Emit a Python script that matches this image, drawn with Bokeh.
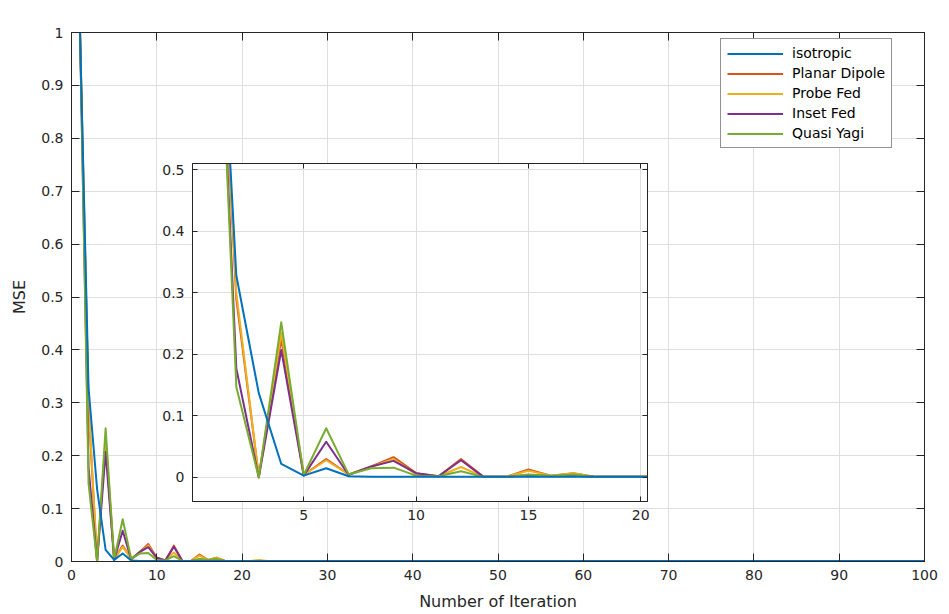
from bokeh.plotting import figure
from bokeh.models import (Range1d, LinearAxis, FixedTicker, Legend, LegendItem,
                          ColumnDataSource, NumeralTickFormatter)
from bokeh.layouts import column
from bokeh.embed import file_html
from bokeh.resources import INLINE

# ---------------- data ----------------
iterations = list(range(1, 101))

isotropic = [
    1.0, 0.328, 0.137, 0.022, 0.003, 0.015, 0.002, 0.001, 0.001, 0.001,
    0.001, 0.001, 0.001, 0.001, 0.001, 0.001, 0.001, 0.001, 0.001, 0.001,
    0.001, 0.001, 0.001, 0.001, 0.001, 0.001, 0.001, 0.001, 0.001, 0.001,
    0.001, 0.001, 0.001, 0.001, 0.001, 0.001, 0.001, 0.001, 0.001, 0.001,
    0.001, 0.001, 0.001, 0.001, 0.001, 0.001, 0.001, 0.001, 0.001, 0.001,
    0.001, 0.001, 0.001, 0.001, 0.001, 0.001, 0.001, 0.001, 0.001, 0.001,
    0.001, 0.001, 0.001, 0.001, 0.001, 0.001, 0.001, 0.001, 0.001, 0.001,
    0.001, 0.001, 0.001, 0.001, 0.001, 0.001, 0.001, 0.001, 0.001, 0.001,
    0.001, 0.001, 0.001, 0.001, 0.001, 0.001, 0.001, 0.001, 0.001, 0.001,
    0.001, 0.001, 0.001, 0.001, 0.001, 0.001, 0.001, 0.001, 0.001, 0.001,
]
planar_dipole = [
    1.0, 0.290, 0.002, 0.225, 0.004, 0.030, 0.005, 0.018, 0.033, 0.007,
    0.002, 0.030, 0.001, 0.001, 0.013, 0.003, 0.007, 0.001, 0.001, 0.001,
    0.001, 0.001, 0.001, 0.001, 0.001, 0.001, 0.001, 0.001, 0.001, 0.001,
    0.001, 0.001, 0.001, 0.001, 0.001, 0.001, 0.001, 0.001, 0.001, 0.001,
    0.001, 0.001, 0.001, 0.001, 0.001, 0.001, 0.001, 0.001, 0.001, 0.001,
    0.001, 0.001, 0.001, 0.001, 0.001, 0.001, 0.001, 0.001, 0.001, 0.001,
    0.001, 0.001, 0.001, 0.001, 0.001, 0.001, 0.001, 0.001, 0.001, 0.001,
    0.001, 0.001, 0.001, 0.001, 0.001, 0.001, 0.001, 0.001, 0.001, 0.001,
    0.001, 0.001, 0.001, 0.001, 0.001, 0.001, 0.001, 0.001, 0.001, 0.001,
    0.001, 0.001, 0.001, 0.001, 0.001, 0.001, 0.001, 0.001, 0.001, 0.001,
]
probe_fed = [
    1.0, 0.300, 0.002, 0.235, 0.004, 0.028, 0.005, 0.017, 0.030, 0.005,
    0.002, 0.017, 0.001, 0.001, 0.011, 0.003, 0.007, 0.001, 0.001, 0.001,
    0.001, 0.003, 0.001, 0.001, 0.001, 0.001, 0.001, 0.001, 0.001, 0.001,
    0.001, 0.001, 0.001, 0.001, 0.001, 0.001, 0.001, 0.001, 0.001, 0.001,
    0.001, 0.001, 0.001, 0.001, 0.001, 0.001, 0.001, 0.001, 0.001, 0.001,
    0.001, 0.001, 0.001, 0.001, 0.001, 0.001, 0.001, 0.001, 0.001, 0.001,
    0.001, 0.001, 0.001, 0.001, 0.001, 0.001, 0.001, 0.001, 0.001, 0.001,
    0.001, 0.001, 0.001, 0.001, 0.001, 0.001, 0.001, 0.001, 0.001, 0.001,
    0.001, 0.001, 0.001, 0.001, 0.001, 0.001, 0.001, 0.001, 0.001, 0.001,
    0.001, 0.001, 0.001, 0.001, 0.001, 0.001, 0.001, 0.001, 0.001, 0.001,
]
inset_fed = [
    1.0, 0.177, 0.000, 0.207, 0.003, 0.058, 0.004, 0.018, 0.027, 0.007,
    0.002, 0.028, 0.001, 0.001, 0.004, 0.002, 0.003, 0.001, 0.001, 0.001,
    0.001, 0.001, 0.001, 0.001, 0.001, 0.001, 0.001, 0.001, 0.001, 0.001,
    0.001, 0.001, 0.001, 0.001, 0.001, 0.001, 0.001, 0.001, 0.001, 0.001,
    0.001, 0.001, 0.001, 0.001, 0.001, 0.001, 0.001, 0.001, 0.001, 0.001,
    0.001, 0.001, 0.001, 0.001, 0.001, 0.001, 0.001, 0.001, 0.001, 0.001,
    0.001, 0.001, 0.001, 0.001, 0.001, 0.001, 0.001, 0.001, 0.001, 0.001,
    0.001, 0.001, 0.001, 0.001, 0.001, 0.001, 0.001, 0.001, 0.001, 0.001,
    0.001, 0.001, 0.001, 0.001, 0.001, 0.001, 0.001, 0.001, 0.001, 0.001,
    0.001, 0.001, 0.001, 0.001, 0.001, 0.001, 0.001, 0.001, 0.001, 0.001,
]
quasi_yagi = [
    1.0, 0.147, 0.000, 0.252, 0.004, 0.080, 0.005, 0.015, 0.016, 0.003,
    0.002, 0.010, 0.001, 0.001, 0.005, 0.003, 0.005, 0.001, 0.001, 0.001,
    0.001, 0.001, 0.001, 0.001, 0.001, 0.001, 0.001, 0.001, 0.001, 0.001,
    0.001, 0.001, 0.001, 0.001, 0.001, 0.001, 0.001, 0.001, 0.001, 0.001,
    0.001, 0.001, 0.001, 0.001, 0.001, 0.001, 0.001, 0.001, 0.001, 0.001,
    0.001, 0.001, 0.001, 0.001, 0.001, 0.001, 0.001, 0.001, 0.001, 0.001,
    0.001, 0.001, 0.001, 0.001, 0.001, 0.001, 0.001, 0.001, 0.001, 0.001,
    0.001, 0.001, 0.001, 0.001, 0.001, 0.001, 0.001, 0.001, 0.001, 0.001,
    0.001, 0.001, 0.001, 0.001, 0.001, 0.001, 0.001, 0.001, 0.001, 0.001,
    0.001, 0.001, 0.001, 0.001, 0.001, 0.001, 0.001, 0.001, 0.001, 0.001,
]

series_names = ["isotropic", "Planar Dipole", "Probe Fed", "Inset Fed", "Quasi Yagi"]
series_values = [isotropic, planar_dipole, probe_fed, inset_fed, quasi_yagi]
series_colors = ["#0072BD", "#D95319", "#EDB120", "#7E2F8E", "#77AC30"]

main_xticks = [0, 10, 20, 30, 40, 50, 60, 70, 80, 90, 100]
main_yticks = [0, 0.1, 0.2, 0.3, 0.4, 0.5, 0.6, 0.7, 0.8, 0.9, 1.0]
inset_xticks = [5, 10, 15, 20]
inset_yticks = [0, 0.1, 0.2, 0.3, 0.4, 0.5]

FONT = "DejaVu Sans"
INK = "#262626"
GRID = "#dfdfdf"

sources = [ColumnDataSource(data=dict(x=iterations, y=v)) for v in series_values]
draw_order = [1, 2, 3, 4, 0]   # isotropic drawn last (on top)


def style_axes(fig, xticks, yticks, tick_len, label_size="14px"):
    xax = fig.below[0]
    yax = fig.left[0]
    for ax in (xax, yax):
        ax.axis_line_color = INK
        ax.major_tick_line_color = INK
        ax.major_tick_in = tick_len
        ax.major_tick_out = 0
        ax.minor_tick_line_color = None
        ax.major_label_text_font = FONT
        ax.major_label_text_font_size = label_size
        ax.major_label_text_color = INK
        ax.major_label_standoff = 8
        ax.formatter = NumeralTickFormatter(format="0.[0]")
    xax.ticker = FixedTicker(ticks=xticks)
    yax.ticker = FixedTicker(ticks=yticks)
    fig.xgrid.ticker = FixedTicker(ticks=xticks)
    fig.ygrid.ticker = FixedTicker(ticks=yticks)
    fig.xgrid.grid_line_color = GRID
    fig.ygrid.grid_line_color = GRID
    # mirrored ticks on top and right (box on), without labels
    for loc, ticks in (("above", xticks), ("right", yticks)):
        ax = LinearAxis(ticker=FixedTicker(ticks=ticks),
                        major_label_text_font_size="1px",
                        major_label_text_color=None,
                        major_label_text_alpha=0,
                        major_label_standoff=0, major_tick_in=tick_len,
                        major_tick_out=0, minor_tick_line_color=None,
                        axis_line_color=INK, major_tick_line_color=INK)
        fig.add_layout(ax, loc)
    fig.outline_line_color = INK
    return xax, yax


# ---------------- main figure ----------------
p = figure(width=949, height=614, output_backend="svg", toolbar_location=None,
           x_range=Range1d(0, 100), y_range=Range1d(0, 1),
           min_border_left=71, min_border_right=25, min_border_top=32,
           min_border_bottom=53)
p.background_fill_color = "white"
p.border_fill_color = "white"
px_axis, py_axis = style_axes(p, main_xticks, main_yticks, 8)
px_axis.axis_label = "Number of Iteration"
py_axis.axis_label = "MSE"
for ax in (px_axis, py_axis):
    ax.axis_label_text_font = FONT
    ax.axis_label_text_font_size = "16px"
    ax.axis_label_text_font_style = "normal"
    ax.axis_label_text_color = INK
    ax.axis_label_standoff = 9

renderers = {}
for i in draw_order:
    renderers[i] = p.line("x", "y", source=sources[i], color=series_colors[i],
                          line_width=2, line_join="round")

legend = Legend(items=[LegendItem(label=series_names[i], renderers=[renderers[i]])
                       for i in range(5)],
                location=(649, 413))
legend.label_text_font = FONT
legend.label_text_font_size = "14px"
legend.label_text_color = "black"
legend.border_line_color = INK
legend.border_line_width = 1
legend.background_fill_color = "white"
legend.background_fill_alpha = 1
legend.glyph_width = 56
legend.glyph_height = 15
legend.label_height = 15
legend.label_standoff = 9
legend.spacing = 4
legend.padding = 6
legend.margin = 0
p.add_layout(legend)

# ---------------- inset figure ----------------
q = figure(width=551, height=373, output_backend="svg", toolbar_location=None,
           x_range=Range1d(0.05, 20.3), y_range=Range1d(-0.039, 0.51),
           min_border_left=40, min_border_right=5, min_border_top=5,
           min_border_bottom=30)
q.background_fill_color = "white"
q.border_fill_color = None
q.border_fill_alpha = 0
style_axes(q, inset_xticks, inset_yticks, 5)
for i in draw_order:
    q.line("x", "y", source=sources[i], color=series_colors[i], line_width=2,
           line_join="round")
q.styles = {"position": "absolute", "left": "121px", "top": "158px"}

layout = column(p, q)
open("out.html", "w").write(file_html(layout, INLINE))
